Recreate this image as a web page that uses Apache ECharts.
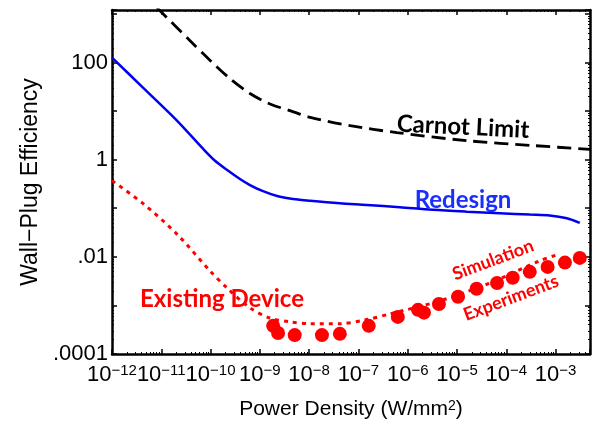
<!DOCTYPE html>
<html>
<head>
<meta charset="utf-8">
<script src="https://cdn.jsdelivr.net/npm/echarts@6/dist/echarts.min.js"></script>
<style>
html, body { margin: 0; padding: 0; background: #fff; }
#chart { width: 595px; height: 431px; }
</style>
</head>
<body>
<div id="chart"></div>
<script>
// axis ranges (W/mm^2 and efficiency)
const xMin = 1e-12, xMax = 5e-3;
const yMin = 1e-4, yMax = 1200;

// Carnot limit (black dashed)
const carnotX = [1e-12, 9.3e-12, 3.8e-11, 9.8e-11, 2.45e-10, 6.3e-10, 1.6e-9, 4.1e-9, 1.05e-8, 6.8e-8, 6.0e-7, 1.6e-5, 3.5e-4, 5e-3];
const carnotY = [11000, 1175, 282, 110, 47, 23, 14, 10.2, 7.4, 5.0, 3.6, 2.45, 1.95, 1.62];

// Redesign (blue solid)
const redesignX = [1e-12, 4.3e-12, 2.1e-11, 7.1e-11, 1.23e-10, 2.14e-10, 3.95e-10, 6.3e-10, 1.16e-9, 2.24e-9, 4.7e-9, 1.05e-8, 4.2e-8, 1.48e-7, 6.9e-7, 3.2e-6, 1.58e-5, 7.4e-5, 3.0e-4, 7.6e-4, 1.7e-3, 3.1e-3];
const redesignY = [126, 30, 6.3, 1.66, 0.95, 0.62, 0.40, 0.30, 0.224, 0.178, 0.155, 0.142, 0.126, 0.117, 0.105, 0.093, 0.085, 0.079, 0.074, 0.071, 0.062, 0.050];

// Existing device simulation (red dotted)
const simX = [1e-12, 4.3e-12, 2.1e-11, 9.8e-11, 2.14e-10, 6.3e-10, 1.6e-9, 4.1e-9, 1.05e-8, 4.2e-8, 1.35e-7, 4.4e-7, 4.5e-6, 4.7e-5, 4.8e-4, 1.07e-3];
const simY = [0.37, 0.124, 0.029, 0.0051, 0.0023, 8.9e-4, 5.5e-4, 4.6e-4, 4.2e-4, 4.2e-4, 5.0e-4, 6.7e-4, 1.24e-3, 2.9e-3, 8.3e-3, 0.011];

// Experiments (red dots)
const exptX = [1.86e-9, 2.34e-9, 5.1e-9, 1.82e-8, 4.2e-8, 1.62e-7, 6.3e-7, 1.62e-6, 2.14e-6, 4.3e-6, 1.05e-5, 2.5e-5, 6.5e-5, 1.35e-4, 3.0e-4, 6.9e-4, 1.55e-3, 3.1e-3];
const exptY = [3.8e-4, 2.7e-4, 2.45e-4, 2.45e-4, 2.6e-4, 3.8e-4, 5.8e-4, 8.1e-4, 7.1e-4, 1.07e-3, 1.51e-3, 2.2e-3, 2.9e-3, 3.7e-3, 4.9e-3, 6.2e-3, 7.6e-3, 9.5e-3];

// y tick labels by decade exponent
const yLabels = { '-4': '.0001', '-2': '.01', '0': '1', '2': '100' };

function pairs(xs, ys) {
    return xs.map(function (x, i) { return [x, ys[i]]; });
}

function decade(v) {
    let e = Math.log10(v);
    if (Math.abs(e - Math.round(e)) > 1e-6) return null;
    return Math.round(e);
}

let myChart = echarts.init(document.getElementById('chart'));

const axisLine = { show: true, onZero: false, lineStyle: { color: '#000', width: 2.5 } };
const axisTick = { show: true, inside: true, length: 5, lineStyle: { color: '#000', width: 1.5 } };
const minorTick = { show: true, splitNumber: 9, length: 2, lineStyle: { color: '#000', width: 1 } };
const textFont = 'Liberation Sans';
const noteFont = 'Lato';

function xAxis(pos, labels) {
    return {
        type: 'log', logBase: 10, position: pos,
        min: xMin, max: xMax, interval: 1,
        axisLine: axisLine, axisTick: axisTick, minorTick: minorTick,
        splitLine: { show: false },
        axisLabel: {
            show: labels, margin: 9, interval: 0, showMinLabel: true, hideOverlap: false,
            formatter: function (v) {
                let e = decade(v);
                if (e === null) return '';
                return '{b|10}{e|\u2212' + Math.abs(e) + '}';
            },
            rich: {
                b: { fontSize: 22, fontFamily: textFont, color: '#000', lineHeight: 24 },
                e: { fontSize: 15, fontFamily: textFont, color: '#000', verticalAlign: 'top', lineHeight: 14 }
            }
        },
        name: labels ? 'Power Density (W/mm{s|2})' : '',
        nameLocation: 'middle', nameGap: 45,
        nameTextStyle: {
            fontSize: 21, fontFamily: textFont, color: '#000',
            rich: { s: { fontSize: 14, fontFamily: textFont, color: '#000', verticalAlign: 'top', lineHeight: 12 } }
        }
    };
}

function yAxis(pos, labels) {
    return {
        type: 'log', logBase: 10, position: pos,
        min: yMin, max: yMax, interval: 1,
        axisLine: axisLine, axisTick: axisTick, minorTick: minorTick,
        splitLine: { show: false },
        axisLabel: {
            show: labels, margin: 4, interval: 0, showMinLabel: true,
            fontSize: 22, fontFamily: textFont, color: '#000',
            formatter: function (v) {
                let e = decade(v);
                return (e !== null && yLabels[e] !== undefined) ? yLabels[e] : '';
            }
        },
        name: labels ? 'Wall\u2212Plug Efficiency' : '',
        nameLocation: 'middle', nameGap: 70, nameRotate: 90,
        nameTextStyle: { fontSize: 23, fontFamily: textFont, color: '#000' }
    };
}

let option = {
    backgroundColor: '#fff',
    animation: false,
    grid: { left: 112, right: 5, top: 10, bottom: 77, containLabel: false },
    xAxis: [xAxis('bottom', true), xAxis('top', false)],
    yAxis: [yAxis('left', true), yAxis('right', false)],
    series: [
        {
            name: 'Carnot Limit', type: 'line', data: pairs(carnotX, carnotY),
            smooth: 0.3, showSymbol: false, clip: true,
            lineStyle: { color: '#000', width: 2.8, type: [14, 7] }
        },
        {
            name: 'Redesign', type: 'line', data: pairs(redesignX, redesignY),
            smooth: 0.3, showSymbol: false, clip: true,
            lineStyle: { color: '#0000ee', width: 2.5 }
        },
        {
            name: 'Simulation', type: 'line', data: pairs(simX, simY),
            smooth: 0.3, showSymbol: false, clip: true,
            lineStyle: { color: '#f00', width: 3, type: [4, 5] }
        },
        {
            name: 'Experiments', type: 'scatter', data: pairs(exptX, exptY),
            symbolSize: 14, itemStyle: { color: '#f00', opacity: 1 }
        }
    ],
    graphic: [
        {
            type: 'text', x: 463, y: 127, rotation: -0.05,
            style: { text: 'Carnot Limit', fill: '#000', fontSize: 24, fontWeight: 'bold', fontFamily: noteFont, align: 'center', verticalAlign: 'middle' }
        },
        {
            type: 'text', x: 463, y: 200,
            style: { text: 'Redesign', fill: '#1a2fff', fontSize: 24, fontWeight: 'bold', fontFamily: noteFont, align: 'center', verticalAlign: 'middle' }
        },
        {
            type: 'text', x: 222, y: 299,
            style: {
                text: 'Existing Device', fill: '#f00', fontSize: 24, fontWeight: 'bold', fontFamily: noteFont,
                align: 'center', verticalAlign: 'middle',
                stroke: 'rgba(255,255,255,0.7)', lineWidth: 6
            }
        },
        {
            type: 'text', x: 493, y: 260, rotation: 0.36,
            style: { text: 'Simulation', fill: '#f00', fontSize: 18, fontWeight: 'bold', fontFamily: noteFont, align: 'center', verticalAlign: 'middle' }
        },
        {
            type: 'text', x: 511, y: 298, rotation: 0.36,
            style: { text: 'Experiments', fill: '#f00', fontSize: 18, fontWeight: 'bold', fontFamily: noteFont, align: 'center', verticalAlign: 'middle' }
        }
    ]
};

myChart.setOption(option, true);
window.addEventListener('resize', function () {
    myChart.resize();
});
</script>
</body>
</html>
